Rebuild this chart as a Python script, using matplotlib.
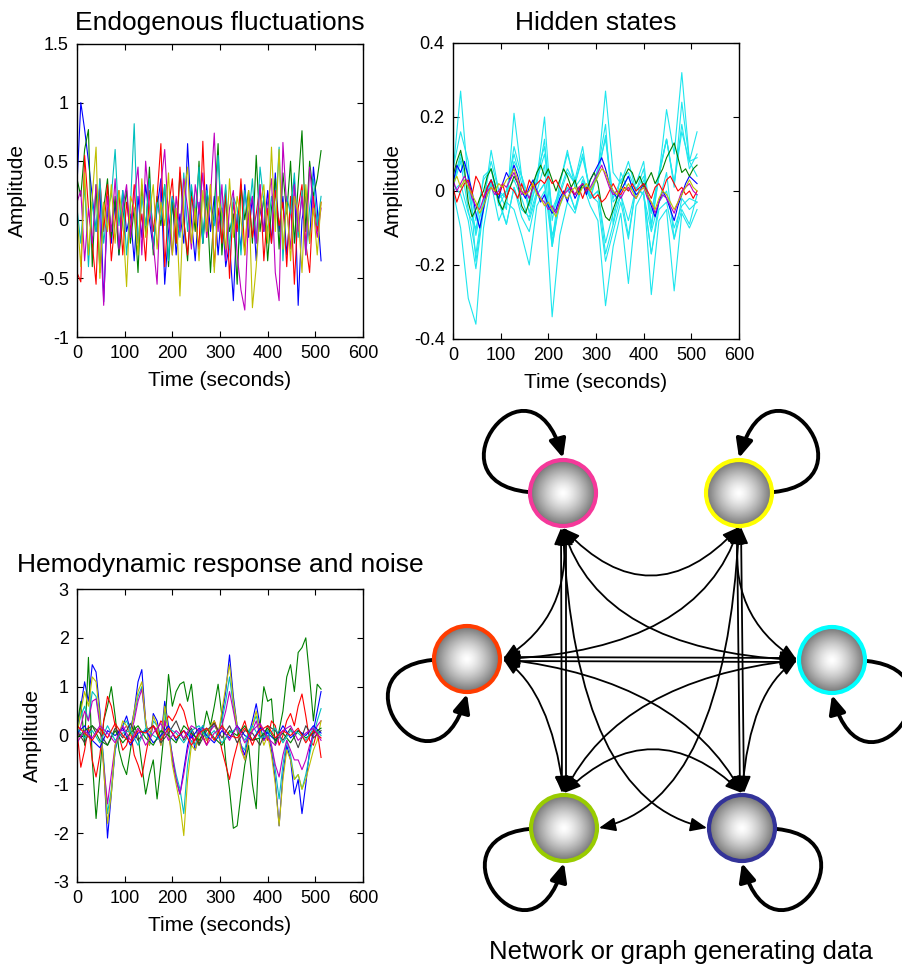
import numpy as np
import matplotlib
matplotlib.use("Agg")
import matplotlib.pyplot as plt
from matplotlib.patches import Circle, FancyArrowPatch
from matplotlib.path import Path

plt.rcParams["font.family"] = ["Liberation Sans", "DejaVu Sans"]
plt.rcParams["axes.unicode_minus"] = False

W, H = 903, 966

# MATLAB-style line colours
BLUE, GREEN, RED = "#0000ff", "#008000", "#ff0000"
CYAN, MAGENTA, OLIVE, GREY = "#00bfbf", "#bf00bf", "#bfbf00", "#404040"
BRIGHT_CYAN = "#1ee6ee"

# ---- Endogenous fluctuations (sampled every 8 s) ----
endo_blue = [
    0.30, 1.00, 0.77, 0.50, 0.20, -0.10, 0.30, -0.70, 0.10, -0.20, 0.15, -0.30, 0.25,
    -0.10, 0.05, -0.35, 0.20, -0.15, 0.30, 0.00, -0.25, 0.10, 0.35, -0.55, -0.10, 0.20,
    -0.30, 0.05, -0.20, 0.65, 0.00, -0.35, 0.15, -0.20, 0.30, -0.10, 0.20, -0.30, 0.10,
    -0.40, -0.20, -0.69, 0.05, -0.25, 0.30, -0.15, 0.20, -0.35, 0.10, -0.10, 0.25, -0.20,
    0.40, -0.10, 0.20, -0.30, 0.10, 0.35, -0.73, 0.00, 0.20, -0.20, 0.45, 0.10, -0.35]
endo_green = [
    0.35, 0.20, 0.60, 0.77, -0.40, 0.30, -0.45, 0.10, 0.35, -0.15, 0.20, -0.30, 0.00,
    0.25, -0.20, 0.10, -0.45, 0.30, -0.10, 0.45, -0.30, 0.20, -0.05, 0.30, -0.40, 0.15,
    -0.20, 0.40, 0.00, -0.35, 0.25, -0.10, 0.50, -0.20, 0.20, -0.45, 0.10, 0.65, -0.30,
    0.20, -0.10, 0.05, -0.55, 0.30, 0.00, 0.25, -0.20, 0.55, -0.10, 0.20, -0.35, 0.10,
    0.35, -0.25, 0.40, 0.05, 0.50, -0.20, 0.30, 0.76, -0.10, 0.50, 0.20, 0.35, 0.59]
endo_red = [
    -0.45, -0.53, 0.55, 0.10, -0.20, -0.55, 0.35, -0.10, 0.30, -0.35, 0.00, 0.25, -0.30,
    0.15, -0.10, 0.30, -0.20, 0.05, -0.35, 0.25, -0.10, 0.20, 0.65, -0.40, 0.10, 0.35,
    -0.20, 0.45, 0.00, -0.30, 0.20, 0.05, -0.25, 0.67, -0.15, 0.30, -0.40, 0.10, -0.20,
    0.25, -0.50, 0.15, -0.10, 0.35, -0.30, 0.20, -0.15, 0.05, 0.30, -0.35, 0.10, -0.20,
    0.25, -0.05, 0.15, -0.40, 0.20, -0.55, 0.10, 0.30, -0.20, -0.45, 0.20, -0.10, 0.15]
endo_cyan = [
    0.10, -0.20, 0.30, -0.40, 0.15, -0.10, 0.35, -0.20, 0.10, 0.20, 0.60, -0.05, 0.25,
    -0.30, 0.10, 0.82, -0.20, 0.20, -0.05, 0.35, -0.25, 0.15, 0.00, 0.30, -0.35, 0.20,
    0.05, -0.15, 0.40, -0.10, 0.30, 0.05, 0.45, -0.20, 0.25, 0.10, -0.05, 0.55, 0.00,
    0.30, -0.25, 0.20, 0.10, -0.30, 0.25, 0.00, 0.35, -0.20, 0.45, 0.15, -0.10, 0.20,
    0.00, 0.62, -0.35, 0.20, 0.05, 0.40, -0.15, 0.25, -0.30, 0.10, 0.35, -0.05, 0.20]
endo_magenta = [
    0.15, 0.25, -0.35, 0.10, -0.20, 0.30, 0.00, -0.73, 0.20, -0.10, 0.35, -0.25, 0.10,
    0.30, -0.15, 0.20, 0.45, -0.30, 0.50, 0.10, -0.20, -0.55, 0.30, 0.60, 0.00, -0.30,
    0.20, -0.10, 0.35, 0.10, -0.25, 0.30, 0.05, 0.40, -0.15, 0.20, 0.74, -0.10, 0.30,
    -0.35, 0.10, 0.25, -0.30, -0.60, -0.77, 0.05, 0.20, -0.20, 0.30, -0.10, 0.15, 0.35,
    -0.45, -0.69, 0.66, 0.10, -0.25, 0.30, -0.10, 0.20, -0.30, 0.45, 0.10, -0.15, 0.10]
endo_yellow = [
    0.05, -0.40, 0.40, -0.30, 0.20, 0.62, -0.50, 0.15, -0.10, 0.30, -0.20, 0.25, 0.00,
    -0.57, 0.20, 0.10, -0.30, 0.35, -0.15, 0.05, 0.30, -0.25, 0.15, -0.05, 0.40, -0.30,
    0.10, -0.65, 0.20, 0.45, -0.20, 0.10, -0.35, 0.25, -0.10, 0.30, -0.45, 0.20, 0.05,
    -0.25, 0.35, -0.15, 0.20, 0.00, -0.30, 0.25, -0.75, -0.40, 0.10, 0.30, -0.20, 0.62,
    -0.10, 0.60, -0.25, 0.15, -0.35, 0.20, 0.05, -0.45, 0.30, -0.20, 0.10, -0.30, 0.15]

# ---- Hidden states: neuronal states (every 8 s) ----
hid_blue = [
    0.02, 0.07, 0.05, 0.08, 0.04, 0.00, -0.06, -0.10, -0.05, 0.01, 0.03, 0.00, -0.02,
    0.02, 0.05, 0.03, 0.07, 0.04, 0.00, -0.02, 0.01, 0.03, 0.00, -0.03, -0.01, -0.04,
    -0.06, -0.05, -0.02, 0.00, -0.03, 0.01, -0.02, 0.00, 0.02, -0.01, 0.03, 0.05, 0.07,
    0.09, 0.06, 0.02, 0.00, -0.02, 0.00, 0.02, 0.04, 0.01, -0.01, 0.00, 0.02, -0.01,
    -0.04, -0.07, -0.03, 0.00, -0.02, -0.05, -0.08, -0.04, -0.01, 0.02, 0.04, 0.03, 0.02]
hid_green = [
    0.04, 0.08, 0.11, 0.06, -0.03, -0.07, -0.05, -0.02, 0.00, 0.04, 0.06, 0.02, -0.03,
    -0.05, -0.02, 0.01, 0.04, 0.02, -0.04, -0.06, -0.03, 0.02, 0.05, 0.07, 0.04, 0.06,
    0.03, 0.00, 0.03, 0.06, 0.04, 0.01, 0.03, -0.01, 0.02, 0.00, 0.03, 0.05, 0.02,
    -0.04, -0.07, -0.08, -0.05, -0.02, 0.01, 0.04, 0.06, 0.05, 0.02, 0.04, 0.01, 0.03,
    0.05, 0.02, 0.04, 0.06, 0.09, 0.11, 0.13, 0.09, 0.05, 0.06, 0.04, 0.06, 0.07]
hid_red = [
    0.01, -0.03, 0.00, 0.02, 0.03, -0.01, 0.04, 0.02, -0.02, 0.01, 0.03, 0.00, -0.01,
    0.02, -0.02, 0.01, 0.00, -0.02, 0.02, -0.01, 0.03, 0.01, 0.02, 0.03, 0.02, 0.04,
    0.02, 0.03, 0.01, -0.01, 0.02, 0.00, -0.01, 0.01, -0.02, 0.01, 0.00, -0.02, -0.01,
    -0.03, -0.02, 0.00, 0.02, 0.00, -0.01, 0.01, 0.00, 0.02, 0.00, 0.01, 0.02, 0.00,
    -0.02, 0.01, 0.02, 0.00, 0.03, 0.04, 0.02, 0.00, 0.01, -0.01, 0.00, -0.02, 0.00]
hid_magenta = [
    0.03, 0.00, 0.02, 0.04, 0.02, -0.02, -0.04, -0.05, -0.02, 0.00, 0.01, -0.01, 0.00,
    0.02, 0.01, 0.03, 0.05, 0.02, -0.01, 0.00, -0.02, 0.01, 0.00, -0.02, -0.03, -0.05,
    -0.04, -0.06, -0.03, -0.01, 0.00, 0.01, -0.01, 0.01, 0.02, 0.00, 0.01, 0.03, 0.05,
    0.07, 0.04, 0.01, -0.01, 0.00, -0.02, 0.00, 0.01, -0.01, -0.02, 0.00, 0.01, -0.02,
    -0.03, -0.06, -0.03, -0.01, -0.02, -0.04, -0.06, -0.03, 0.00, 0.01, 0.02, 0.00, -0.01]
hid_olive = [
    0.02, 0.04, 0.01, 0.03, 0.01, -0.01, -0.03, -0.06, -0.04, -0.01, 0.01, 0.00, 0.02,
    0.01, 0.03, 0.04, 0.06, 0.03, 0.00, -0.01, 0.00, 0.02, -0.01, -0.02, -0.04, -0.03,
    -0.05, -0.07, -0.04, -0.01, -0.02, 0.00, 0.01, -0.01, 0.01, 0.02, 0.00, 0.02, 0.04,
    0.06, 0.05, 0.02, 0.00, -0.01, 0.01, 0.00, 0.02, 0.00, -0.02, 0.00, 0.01, -0.01,
    -0.03, -0.05, -0.02, 0.00, -0.01, -0.03, -0.05, -0.03, -0.01, 0.01, 0.03, 0.01, 0.00]

# ---- Hidden states: haemodynamic states (every 16 s) ----
hid_cyan_1 = [0.05, 0.27, 0.02, -0.12, -0.02, 0.08, 0.00, -0.05, 0.21, 0.04, -0.06,
              0.03, 0.20, -0.08, 0.02, 0.10, 0.03, 0.12, -0.02, 0.05, 0.27, 0.05,
              0.02, 0.08, 0.00, 0.06, -0.10, 0.04, 0.22, 0.10, 0.32, 0.08, 0.16]
hid_cyan_2 = [0.00, -0.10, -0.29, -0.36, -0.10, 0.02, -0.08, -0.03, -0.05, -0.12, -0.20,
              -0.04, 0.00, -0.34, -0.12, -0.03, -0.06, 0.02, -0.04, -0.08, -0.31, -0.15,
              -0.06, -0.25, -0.04, 0.00, -0.28, -0.08, -0.05, -0.27, -0.06, -0.10, -0.05]
hid_cyan_3 = [0.06, 0.16, 0.08, -0.19, -0.04, 0.11, 0.00, -0.02, 0.12, 0.04, -0.04,
              0.02, 0.14, -0.14, 0.02, 0.11, 0.01, 0.04, -0.02, 0.06, 0.18, -0.09,
              0.05, 0.00, 0.02, 0.08, -0.09, 0.04, 0.14, 0.01, 0.24, 0.08, 0.09]
hid_cyan_4 = [0.02, -0.01, -0.08, -0.21, -0.05, 0.03, -0.03, -0.09, 0.01, -0.07, -0.11,
              -0.01, 0.02, -0.15, -0.03, 0.01, -0.05, 0.03, -0.01, -0.03, -0.19, -0.11,
              -0.03, -0.13, 0.01, -0.01, -0.17, -0.05, -0.03, -0.13, -0.05, -0.09, -0.01]
hid_cyan_5 = [0.02, 0.09, 0.00, -0.11, 0.04, 0.06, -0.04, 0.00, 0.08, 0.04, -0.02,
              0.03, 0.10, -0.06, -0.01, 0.05, 0.02, 0.09, 0.00, 0.06, 0.14, -0.03,
              0.00, 0.04, -0.02, 0.03, -0.06, 0.04, 0.14, 0.02, 0.16, 0.08, 0.04]
hid_cyan_6 = [0.01, 0.08, -0.05, -0.17, -0.03, 0.03, -0.02, -0.09, 0.01, -0.05, -0.07,
              0.00, 0.07, -0.15, -0.02, 0.01, -0.05, 0.03, -0.02, 0.00, -0.17, -0.09,
              -0.01, -0.12, 0.01, -0.01, -0.17, -0.03, 0.05, -0.13, -0.02, -0.05, -0.03]
hid_cyan_7 = [0.02, 0.10, 0.04, -0.08, 0.03, 0.06, -0.02, 0.00, 0.10, 0.02, -0.04,
              0.05, 0.12, -0.05, 0.00, 0.06, 0.02, 0.10, 0.00, 0.04, 0.15, -0.02,
              0.03, 0.05, 0.00, 0.04, -0.06, 0.05, 0.14, 0.02, 0.18, 0.06, 0.10]
hid_cyan_8 = [0.00, 0.02, -0.06, -0.10, -0.04, 0.02, -0.02, 0.00, 0.03, -0.02, -0.08,
              -0.01, 0.02, -0.12, -0.04, 0.01, -0.01, 0.02, -0.02, 0.00, -0.14, -0.06,
              -0.01, -0.08, 0.01, -0.01, -0.11, -0.03, 0.00, -0.10, -0.04, -0.02, -0.03]

# ---- Hemodynamic response (every 8 s) ----
bold_blue = [
    0.10, 0.60, 1.10, 0.70, 1.45, 1.30, 0.50, -0.60, -2.10, -1.20, -0.30, 0.00, 0.20,
    0.40, 0.10, 0.50, 1.10, 1.35, 0.30, -0.20, 0.45, 0.30, -0.10, 0.70, 0.20, -0.50,
    -0.90, -1.20, -0.70, -0.20, 0.10, -0.30, 0.00, 0.20, -0.10, 0.10, 0.30, 0.00, 0.40,
    0.90, 1.65, 0.80, 0.20, -0.20, -0.40, 0.00, 0.30, 0.65, 0.20, -0.10, 0.10, -0.30,
    -0.90, -1.85, -0.80, -0.20, -0.50, -1.20, -0.90, -1.60, -1.00, -0.30, 0.10, 0.50, 0.90]
bold_green = [
    0.20, 0.70, -0.20, 1.60, -0.50, -1.70, -0.80, 0.30, 0.60, 1.00, 0.40, -0.30, -0.60,
    -0.80, -0.30, 0.20, 0.00, -0.60, -1.20, -0.80, -0.50, -1.30, -0.60, 0.20, 1.25, 0.60,
    0.90, 1.05, 1.10, 0.70, 1.05, 0.30, -0.20, 0.10, 0.50, 0.20, 0.60, 1.05, 0.40,
    -0.50, -1.10, -1.90, -1.85, -1.20, -0.60, -0.20, -1.00, -1.50, 0.20, 1.00, 0.70, 0.75,
    -0.20, 0.10, 0.50, 1.20, 1.45, 0.90, 1.70, 1.80, 2.00, 1.20, 0.30, 1.05, 0.95]
bold_red = [
    0.10, -0.65, -0.30, 0.20, -0.50, -0.85, -0.40, 0.30, 0.80, 0.60, 0.20, 0.00, -0.30,
    -0.20, 0.10, -0.40, -0.60, -0.85, -0.40, 0.00, 0.20, 0.10, 0.30, 0.20, 0.40, 0.30,
    0.45, 0.65, 0.50, 0.20, 0.00, -0.20, -0.10, 0.00, -0.20, 0.10, 0.30, 0.10, -0.30,
    -0.60, -0.90, -0.50, -0.20, 0.10, 0.30, 0.00, -0.20, 0.00, 0.20, 0.10, -0.10, 0.30,
    0.20, -0.20, 0.00, 0.30, 0.45, 0.20, 0.60, 0.85, 0.40, -0.10, -0.20, 0.10, -0.45]
bold_cyan = [
    0.10, 0.40, 0.60, 0.30, 0.90, 0.80, 0.30, -0.50, -1.60, -1.10, -0.30, 0.10, 0.20,
    0.30, 0.10, 0.40, 0.80, 1.00, 0.20, -0.20, 0.30, 0.20, -0.10, 0.50, 0.10, -0.40,
    -0.80, -1.10, -1.60, -0.60, -0.10, -0.20, 0.10, 0.20, 0.00, 0.15, 0.20, 0.10, 0.30,
    0.70, 1.20, 0.60, 0.10, -0.20, -0.30, 0.10, 0.20, 0.40, 0.10, 0.00, 0.10, -0.20,
    -0.70, -1.30, -0.60, -0.10, -0.40, -0.90, -0.80, -1.10, -0.80, -0.40, 0.00, 0.30, 0.55]
bold_magenta = [
    -0.10, 0.20, 0.50, 0.30, 0.70, 0.75, 0.20, -0.60, -1.40, -0.80, -0.20, 0.10, 0.10,
    0.20, 0.00, 0.30, 0.70, 0.95, 0.30, -0.10, 0.20, 0.10, -0.20, 0.30, 0.00, -0.40,
    -0.90, -1.20, -0.80, -0.30, 0.00, -0.10, 0.10, 0.15, -0.10, 0.10, 0.20, 0.10, 0.20,
    0.50, 0.90, 0.50, 0.10, -0.20, -0.50, -0.10, 0.10, 0.30, 0.00, -0.10, 0.00, -0.20,
    -0.60, -0.85, -0.40, -0.10, -0.30, -0.50, -0.50, -0.70, -0.50, -0.20, 0.00, 0.20, 0.30]
bold_yellow = [
    0.00, 0.50, 0.90, 0.60, 1.20, 1.10, 0.40, -0.70, -1.80, -1.20, -0.20, 0.00, 0.30,
    0.20, 0.00, 0.50, 0.90, 1.10, 0.30, -0.20, 0.40, 0.20, -0.20, 0.60, 0.10, -0.60,
    -1.00, -1.40, -2.05, -0.90, -0.20, -0.30, 0.00, 0.10, -0.10, 0.20, 0.30, 0.00, 0.50,
    1.00, 1.45, 0.70, 0.20, -0.30, -0.50, -0.10, 0.20, 0.50, 0.10, -0.20, 0.00, -0.40,
    -1.00, -1.85, -0.90, -0.30, -0.50, -0.90, -0.80, -1.10, -0.90, -0.60, -0.30, -0.10, 0.30]

# ---- Observation noise (every 16 s) ----
noise_grey = [0.10, -0.15, 0.20, 0.05, -0.20, 0.15, -0.05, 0.25, -0.10, 0.10, 0.20,
              -0.15, 0.05, 0.30, -0.10, 0.15, -0.20, 0.10, 0.25, -0.05, 0.20, -0.15,
              0.10, 0.05, -0.20, 0.20, 0.10, -0.10, 0.15, -0.25, 0.20, -0.05, 0.10]
noise_magenta = [-0.15, 0.10, -0.05, 0.20, 0.05, -0.15, 0.20, -0.10, 0.15, -0.20, 0.05,
                 0.25, -0.10, 0.10, -0.05, 0.20, 0.10, -0.20, 0.05, 0.15, -0.10, 0.20,
                 -0.15, 0.10, 0.25, -0.05, -0.20, 0.10, 0.20, -0.10, 0.05, 0.15, -0.10]
noise_blue = [0.05, 0.20, -0.10, -0.25, 0.10, 0.00, 0.15, -0.20, 0.05, 0.10, -0.15,
              0.00, 0.20, -0.10, 0.10, -0.05, 0.15, 0.00, -0.15, 0.10, -0.05, 0.20,
              0.00, -0.10, 0.15, 0.05, -0.10, 0.20, -0.05, 0.10, 0.00, 0.20, 0.05]
noise_green = [-0.05, 0.10, 0.20, -0.10, -0.20, 0.10, -0.15, 0.05, 0.20, -0.05, -0.20,
               0.10, 0.00, -0.15, 0.20, 0.05, -0.10, 0.15, -0.05, -0.20, 0.10, 0.00,
               0.20, -0.10, -0.05, 0.15, -0.10, 0.05, -0.15, 0.10, -0.05, 0.05, 0.15]
noise_cyan = [0.15, -0.05, 0.10, -0.15, 0.20, -0.10, 0.05, 0.10, -0.20, 0.15, 0.00,
              -0.10, 0.15, 0.05, -0.15, 0.10, 0.20, -0.05, 0.10, -0.15, 0.05, 0.15,
              -0.10, 0.20, -0.05, 0.00, 0.15, -0.15, 0.10, 0.05, -0.10, 0.15, 0.00]
noise_red = [0.20, 0.05, -0.10, 0.15, -0.05, 0.25, 0.00, -0.15, 0.10, 0.05, 0.20,
             -0.10, 0.15, -0.05, 0.10, -0.20, 0.05, 0.15, -0.10, 0.20, 0.00, -0.05,
             0.15, -0.10, 0.10, 0.20, -0.05, 0.10, 0.00, 0.15, -0.15, 0.10, -0.05]

# ---- Network diagram layout (pixel coordinates) ----
node_centres = [(563, 493), (739, 493), (467, 659), (832, 660), (564, 828), (742, 828)]
node_colours = ["#f5389a", "#ffff00", "#ff3c00", "#00ffff", "#99cc00", "#333399"]
loop_sides = [(-1, -1), (1, -1), (-1, 1), (1, 1), (-1, 1), (1, 1)]

PB, YB = (563, 528), (739, 527)
RR, CL = (503, 659), (797, 660)
GT, GR = (564, 793), (599, 828)
NT, NL = (742, 793), (707, 828)
edges = [
    (PB, (651, 622), YB),
    (PB, (573, 616), RR),
    ((561, 528), None, (562, 793)),
    ((566, 528), None, (566, 793)),
    (PB, (600, 650), CL),
    (PB, (575, 800), NL),
    (YB, (700, 650), RR),
    (YB, (727, 616), CL),
    ((737, 527), None, (740, 793)),
    ((741, 527), None, (744, 793)),
    (YB, (725, 800), GR),
    ((503, 657), None, (797, 658)),
    ((503, 661), None, (797, 662)),
    (RR, (550, 690), GT),
    (CL, (750, 690), NT),
    (RR, (680, 680), NT),
    (CL, (620, 680), GT),
    (GT, (653, 707), NT),
]


def px_axes(fig, left, top, right, bottom):
    return fig.add_axes([left / W, 1 - bottom / H, (right - left) / W, (bottom - top) / H])


def style_axes(ax, title, yticks, title_pad):
    ax.set_xlim(0, 600)
    ax.set_ylim(yticks[0], yticks[-1])
    ax.set_xticks(range(0, 601, 100))
    ax.set_yticks(yticks)
    ax.set_yticklabels([f"{v:g}" for v in yticks])
    ax.tick_params(direction="in", top=True, right=True, length=4, width=0.8,
                   labelsize=13, pad=6)
    for spine in ax.spines.values():
        spine.set_linewidth(1.0)
    ax.set_title(title, fontsize=19, pad=title_pad)
    ax.set_xlabel("Time (seconds)", fontsize=15, labelpad=6)
    ax.set_ylabel("Amplitude", fontsize=15, labelpad=8)


fig = plt.figure(figsize=(W / 100, H / 100), dpi=100)

# ---- network diagram drawn in pixel space ----
net = fig.add_axes([0, 0, 1, 1])
net.set_axis_off()

yy, xx = np.mgrid[-1:1:121j, -1:1:121j]
shade = np.clip(1 - 0.55 * np.hypot(xx, yy) ** 1.4, 0, 1)
R = 33
for (cx, cy), col in zip(node_centres, node_colours):
    im = net.imshow(shade, cmap="gray", vmin=0, vmax=1, aspect="auto",
                    extent=(cx - R, cx + R, cy + R, cy - R), interpolation="bilinear", zorder=3)
    ring = Circle((cx, cy), R, facecolor="none", edgecolor=col, lw=3.0, zorder=4)
    net.add_patch(ring)
    im.set_clip_path(ring)

for p0, ctrl, p1 in edges:
    if ctrl is None:
        ctrl = ((p0[0] + p1[0]) / 2, (p0[1] + p1[1]) / 2)
    path = Path([p0, ctrl, p1], [Path.MOVETO, Path.CURVE3, Path.CURVE3])
    net.add_patch(FancyArrowPatch(path=path, arrowstyle="<|-|>,head_length=10,head_width=4.2",
                                  mutation_scale=1, lw=1.3, color="black", zorder=2))

for (cx, cy), (sx, sy) in zip(node_centres, loop_sides):
    start = (cx + 35 * sx, cy + 1 * sy)
    c1 = (cx + 138 * sx, cy + 12 * sy)
    c2 = (cx + 33 * sx, cy + 150 * sy)
    end = (cx, cy + 35 * sy)
    path = Path([start, c1, c2, end], [Path.MOVETO, Path.CURVE4, Path.CURVE4, Path.CURVE4])
    net.add_patch(FancyArrowPatch(path=path, arrowstyle="-|>,head_length=11,head_width=5",
                                  mutation_scale=1, lw=2.8, color="black", zorder=2))

net.text(681, 952, "Network or graph generating data", fontsize=18.5,
         ha="center", va="center")
net.set_xlim(0, W)
net.set_ylim(H, 0)

# ---- time-series panels ----
t8 = np.linspace(0, 512, 65)
t16 = np.linspace(0, 512, 33)
lw = 0.8

ax1 = px_axes(fig, 77, 44, 363, 337)
for series, col in [(endo_blue, BLUE), (endo_green, GREEN), (endo_red, RED),
                    (endo_cyan, CYAN), (endo_magenta, MAGENTA), (endo_yellow, OLIVE)]:
    ax1.plot(t8, series, color=col, lw=lw)
style_axes(ax1, "Endogenous fluctuations", [-1, -0.5, 0, 0.5, 1, 1.5], 10)

ax2 = px_axes(fig, 453, 43, 739, 339)
for series in [hid_cyan_1, hid_cyan_2, hid_cyan_3, hid_cyan_4,
               hid_cyan_5, hid_cyan_6, hid_cyan_7, hid_cyan_8]:
    ax2.plot(t16, series, color=BRIGHT_CYAN, lw=lw)
for series, col in [(hid_blue, BLUE), (hid_green, GREEN), (hid_red, RED),
                    (hid_magenta, MAGENTA), (hid_olive, OLIVE)]:
    ax2.plot(t8, series, color=col, lw=lw)
style_axes(ax2, "Hidden states", [-0.4, -0.2, 0, 0.2, 0.4], 9.5)

ax3 = px_axes(fig, 77, 589, 363, 882)
for series, col in [(bold_blue, BLUE), (bold_green, GREEN), (bold_red, RED),
                    (bold_cyan, CYAN), (bold_magenta, MAGENTA), (bold_yellow, OLIVE)]:
    ax3.plot(t8, series, color=col, lw=lw)
for series, col in [(noise_grey, GREY), (noise_blue, BLUE), (noise_green, GREEN),
                    (noise_cyan, CYAN), (noise_red, RED), (noise_magenta, MAGENTA)]:
    ax3.plot(t16, series, color=col, lw=lw)
style_axes(ax3, "Hemodynamic response and noise", [-3, -2, -1, 0, 1, 2, 3], 12)

fig.savefig("out.png", dpi=100)
